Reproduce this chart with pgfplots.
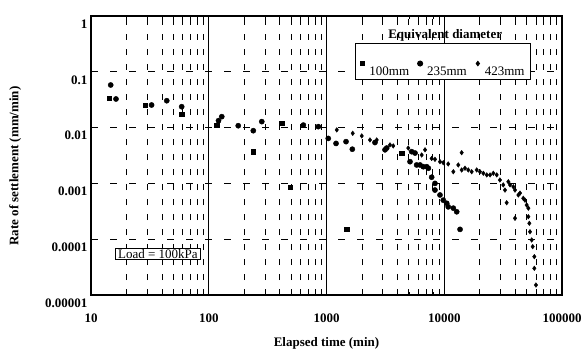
\documentclass[border=0pt]{standalone}
\usepackage{pgfplots}
\pgfplotsset{compat=1.18}
\usepackage{fontspec}
\setmainfont{Liberation Serif}
\newcommand{\fs}{\fontsize{13}{15}\selectfont}
\begin{document}
\begin{tikzpicture}
\useasboundingbox (0pt,0pt) rectangle (587pt,353pt);
\begin{axis}[
  at={(91pt,58pt)}, anchor=south west,
  scale only axis, width=471pt, height=279pt,
  xmode=log, ymode=log,
  xmin=10, xmax=100000, ymin=0.00001, ymax=1,
  xtick={10,100,1000,10000,100000},
  xticklabels={10,100,1000,10000,100000},
  ytick={0.00001,0.0001,0.001,0.01,0.1,1},
  yticklabels={0.00001,0.0001,0.001,0.01,0.1,1},
  yminorticks=false,
  axis line style={line width=1.3pt},
  xmajorgrids, xminorgrids, ymajorgrids,
  major x grid style={black, line width=0.8pt},
  minor x grid style={black, line width=0.7pt, dash pattern=on 6pt off 9pt},
  major y grid style={black, line width=0.8pt, dash pattern=on 7pt off 12pt},
  tick style={black, line width=0.6pt},
  major tick length=0pt, minor tick length=3pt,
  xticklabel style={font=\fs\bfseries, anchor=north, yshift=-15pt},
  yticklabel style={font=\fs\bfseries, anchor=east, yshift=-8pt},
  xlabel={Elapsed time (min)},
  ylabel={Rate of settlement (mm/min)},
  xlabel style={font=\fs\bfseries, at={(axis description cs:0.5,-0.172)}, anchor=center},
  ylabel style={font=\fs\bfseries, at={(axis description cs:-0.161,0.462)}, anchor=center},
  legend columns=3,
  legend style={at={(rel axis cs:0.5605,0.7706)}, anchor=south west,
    font=\fs, draw=black, line width=0.8pt, inner xsep=4pt, inner ysep=1pt,
    /tikz/every even column/.append style={column sep=6pt}},
  legend image code/.code={\path[draw=none,fill=none] (-3pt,-3pt) rectangle (5pt,27pt);\draw[#1] plot coordinates {(0pt,8pt)};},
]
\addplot[only marks, mark=square*, mark size=2.2pt, black] coordinates {
(14.3,0.0335) (28.8,0.0254) (58.9,0.0175) (117,0.0111) (239,0.0037) (417,0.0119)
(490,0.00085) (1486,0.00015) (4350,0.0035)
};
\addlegendentry{100mm}
\addplot[only marks, mark=*, mark size=2.6pt, black] coordinates {
(14.7,0.058) (16.3,0.0326) (32.7,0.0254) (44,0.0303) (58.9,0.0237) (121,0.0133)
(129,0.0157) (178,0.0108) (239,0.0088) (282,0.0128) (636,0.0111) (852,0.0104)
(1035,0.0064) (1205,0.0052) (1465,0.0056) (1657,0.0041) (2580,0.0054) (3140,0.0040)
(3245,0.0043) (5290,0.0037) (5650,0.0035) (5120,0.00245) (5830,0.00214) (6230,0.00214)
(6640,0.00199) (7100,0.00199) (7330,0.00187) (7820,0.00129) (8340,0.00100) (8340,0.00076)
(9200,0.00062) (9810,0.00050) (10500,0.00044) (10810,0.00038) (11940,0.00036)
(12760,0.00031) (13620,0.000150)
};
\addlegendentry{235mm}
\addplot[only marks, mark=diamond*, mark size=2.3pt, black] coordinates {
(1222,0.0091) (1670,0.0079) (1993,0.0071) (2340,0.0060) (2670,0.0060) (3460,0.0049)
(3690,0.0047) (4950,0.0043) (6430,0.00323) (6870,0.0040) (7820,0.0028) (8340,0.0027)
(9200,0.00245) (9810,0.00235) (10810,0.00223) (11940,0.00162) (14060,0.00355)
(13160,0.00214) (14060,0.00174) (15000,0.00187) (16000,0.00174) (17100,0.00162)
(18870,0.00174) (20100,0.00162) (21500,0.00152) (22960,0.00142) (24500,0.00142)
(26100,0.00152) (27900,0.00142) (29700,0.00115) (31700,0.00094) (32800,0.00076)
(35000,0.00107) (36200,0.00094) (38600,0.00087) (39900,0.00076) (42600,0.00062)
(44000,0.00067) (46900,0.00054) (48500,0.00050) (50100,0.00041) (33900,0.00045)
(39900,0.000237) (51800,0.00036) (51800,0.000253) (52800,0.000193) (53500,0.000136)
(55300,0.0000968) (56400,0.0000735) (58200,0.0000487) (58200,0.0000301) (60100,0.0000151)
};
\addlegendentry{423mm}
\node[font=\fs\bfseries, anchor=center] at (rel axis cs:0.752,0.932) {Equivalent diameter};
\node[font=\fs, draw=black, line width=0.8pt, inner xsep=3pt, inner ysep=1pt, fill=white, anchor=center] at (rel axis cs:0.142,0.147) {Load = 100kPa};
\end{axis}
\end{tikzpicture}
\end{document}
